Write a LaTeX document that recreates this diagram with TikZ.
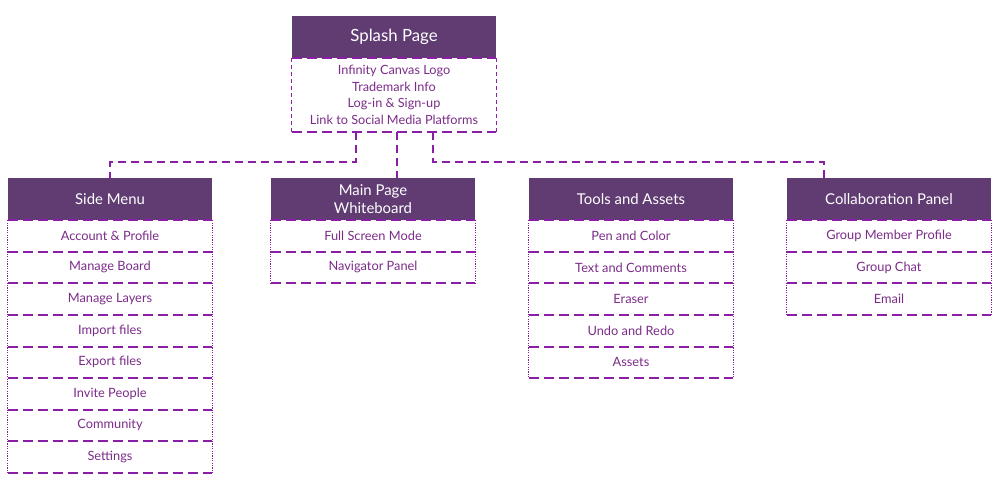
\documentclass[tikz,border=0pt]{standalone}
\usepackage{fontspec}
\setmainfont{Lato}
\usetikzlibrary{positioning}
\definecolor{headpurple}{HTML}{603C73}
\definecolor{textpurple}{HTML}{7B2C88}
\definecolor{linepurple}{HTML}{8A1FA6}
\begin{document}
\begin{tikzpicture}[x=1pt,y=-1pt,line cap=butt,
	head/.style={fill=headpurple,text=white,minimum width=204pt,minimum height=42pt,inner sep=0pt,align=center,font=\fontsize{14.9}{17.5}\selectfont},
	item/.style={text=textpurple,minimum width=204pt,minimum height=31.6pt,inner sep=0pt,font=\fontsize{12.8}{15}\selectfont},
	hline/.style={draw=linepurple,line width=2pt,dash pattern=on 10pt off 5pt},
	sideline/.style={draw=linepurple,line width=1.2pt,dash pattern=on 1.2pt off 1.2pt},
	link/.style={draw=linepurple,line width=1.8pt,dash pattern=on 8pt off 5pt}]
	\useasboundingbox (0,0) rectangle (1000,500);
	% splash page
	\node[head,font=\fontsize{16.8}{19}\selectfont] (splash) at (394,37) {Splash Page};
	\node[item,below=0pt of splash,minimum height=73pt,align=center,font=\fontsize{12.7}{16.7}\selectfont] (splashinfo) {Infinity Canvas Logo\\Trademark Info\\Log-in \& Sign-up\\Link to Social Media Platforms};
	\draw[hline] (splashinfo.north west) -- (splashinfo.north east);
	\draw[hline] (splashinfo.south west) -- (splashinfo.south east);
	\draw[sideline,dash pattern=on 4pt off 3pt] (splashinfo.north west) -- (splashinfo.south west);
	\draw[sideline,dash pattern=on 4pt off 3pt] (splashinfo.north east) -- (splashinfo.south east);
	% side menu
	\node[head] (side) at (110,199) {Side Menu};
	\draw[hline] (side.south west) -- (side.south east);
	\foreach \txt [count=\i] in {Account \& Profile,Manage Board,Manage Layers,Import files,Export files,Invite People,Community,Settings}{
		\node[item] (side\i) at (110,{220+(\i-0.5)*31.6}) {\txt};
		\draw[hline] (side\i.south west) -- (side\i.south east);
	}
	\draw[sideline] (side.south west) -- (side8.south west);
	\draw[sideline] (side.south east) -- (side8.south east);
	% main page
	\node[head] (main) at (373,199) {Main Page\\Whiteboard};
	\draw[hline] (main.south west) -- (main.south east);
	\foreach \txt [count=\i] in {Full Screen Mode,Navigator Panel}{
		\node[item] (main\i) at (373,{220+(\i-0.5)*31.6}) {\txt};
		\draw[hline] (main\i.south west) -- (main\i.south east);
	}
	\draw[sideline] (main.south west) -- (main2.south west);
	\draw[sideline] (main.south east) -- (main2.south east);
	% tools and assets
	\node[head] (tools) at (631,199) {Tools and Assets};
	\draw[hline] (tools.south west) -- (tools.south east);
	\foreach \txt [count=\i] in {Pen and Color,Text and Comments,Eraser,Undo and Redo,Assets}{
		\node[item] (tools\i) at (631,{220+(\i-0.5)*31.6}) {\txt};
		\draw[hline] (tools\i.south west) -- (tools\i.south east);
	}
	\draw[sideline] (tools.south west) -- (tools5.south west);
	\draw[sideline] (tools.south east) -- (tools5.south east);
	% collaboration panel
	\node[head] (collab) at (889,199) {Collaboration Panel};
	\draw[hline] (collab.south west) -- (collab.south east);
	\foreach \txt [count=\i] in {Group Member Profile,Group Chat,Email}{
		\node[item] (collab\i) at (889,{220+(\i-0.5)*31.6}) {\txt};
		\draw[hline] (collab\i.south west) -- (collab\i.south east);
	}
	\draw[sideline] (collab.south west) -- (collab3.south west);
	\draw[sideline] (collab.south east) -- (collab3.south east);
	% connectors
	\coordinate (j1) at (356,162);
	\coordinate (j2) at (397,162);
	\coordinate (j3) at (433,162);
	\coordinate (j4) at (824,162);
	\draw[link] (j1 |- splashinfo.south) -- (j1) -| (side.north);
	\draw[link] (j2 |- splashinfo.south) -- (j2 |- main.north);
	\draw[link] (j3 |- splashinfo.south) -- (j3) -- (j4) -- (j4 |- collab.north);
\end{tikzpicture}
\end{document}
